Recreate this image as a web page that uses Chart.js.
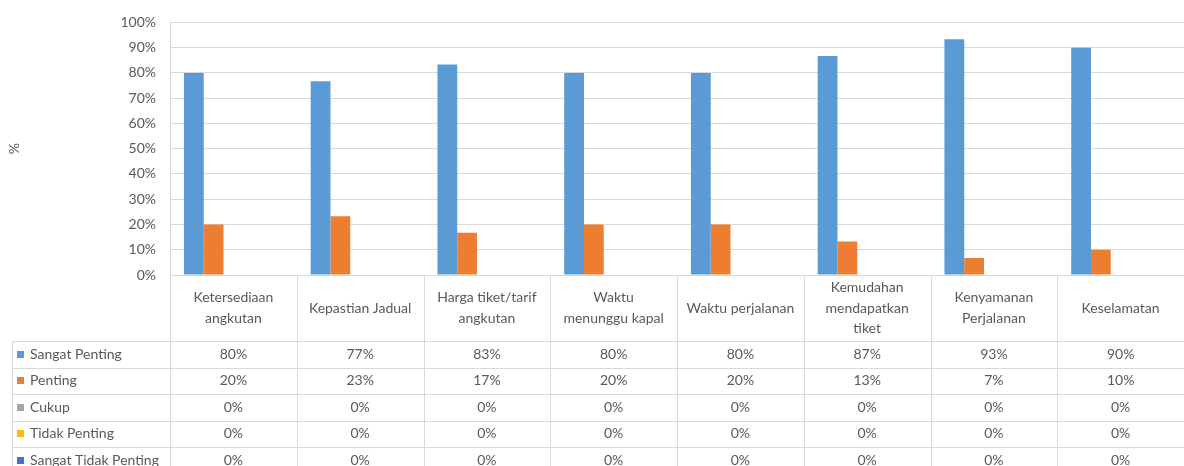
<!DOCTYPE html>
<html>
<head>
<meta charset="utf-8">
<script src="https://cdn.jsdelivr.net/npm/chart.js@4/dist/chart.umd.min.js"></script>
<style>
  html, body { margin: 0; padding: 0; background: #fff; }
  #wrap { width: 1184px; height: 466px; position: relative; }
</style>
</head>
<body>
<div id="wrap"><canvas id="chart1"></canvas></div>
<script>
// Data dari gambar (persen)
const kategori = [
    ['Ketersediaan', 'angkutan'],
    ['Kepastian Jadual'],
    ['Harga tiket/tarif', 'angkutan'],
    ['Waktu', 'menunggu kapal'],
    ['Waktu perjalanan'],
    ['Kemudahan', 'mendapatkan', 'tiket'],
    ['Kenyamanan', 'Perjalanan'],
    ['Keselamatan']
];
const sangatPenting = [80, 76.7, 83.3, 80, 80, 86.7, 93.3, 90];
const penting = [20, 23.3, 16.7, 20, 20, 13.3, 6.7, 10];
const cukup = [0, 0, 0, 0, 0, 0, 0, 0];
const tidakPenting = [0, 0, 0, 0, 0, 0, 0, 0];
const sangatTidakPenting = [0, 0, 0, 0, 0, 0, 0, 0];
const namaSeri = ['Sangat Penting', 'Penting', 'Cukup', 'Tidak Penting', 'Sangat Tidak Penting'];
const warna = ['#5B9BD5', '#ED7D31', '#A5A5A5', '#FFC000', '#4472C4'];
const yTicks = [0, 10, 20, 30, 40, 50, 60, 70, 80, 90, 100];

const seri = [sangatPenting, penting, cukup, tidakPenting, sangatTidakPenting];
const FONT = 'Lato, "Noto Sans", sans-serif';
const TEXT = '#595959';
const GARIS = '#d9d9d9';

// Plugin untuk menggambar tabel data di bawah grafik
const tabelData = {
    id: 'tabelData',
    afterDraw(chart) {
        const ctx = chart.ctx;
        const area = chart.chartArea;
        const n = kategori.length;
        const lebar = (area.right - area.left) / n;
        const atas = area.bottom;
        const headerBawah = 341;
        const tinggiBaris = 26.5;
        const kiriLegend = 12;
        const bawah = chart.height;

        ctx.save();
        ctx.strokeStyle = GARIS;
        ctx.lineWidth = 1;
        ctx.beginPath();
        // garis vertikal kolom
        for (let i = 0; i <= n; i++) {
            const xb = Math.round(area.left + i * lebar) + 0.5;
            ctx.moveTo(xb, atas);
            ctx.lineTo(xb, bawah);
        }
        // garis kiri kolom legenda
        ctx.moveTo(kiriLegend + 0.5, headerBawah);
        ctx.lineTo(kiriLegend + 0.5, bawah);
        // garis horizontal baris
        for (let k = 0; k < seri.length; k++) {
            const yb = Math.round(headerBawah + k * tinggiBaris) + 0.5;
            ctx.moveTo(kiriLegend, yb);
            ctx.lineTo(area.right, yb);
        }
        ctx.stroke();

        ctx.fillStyle = TEXT;
        ctx.font = '14px ' + FONT;
        ctx.textAlign = 'center';
        ctx.textBaseline = 'middle';

        // header kategori
        const tengahHeader = (atas + headerBawah) / 2;
        kategori.forEach((baris, i) => {
            const cx = chart.scales.x.getPixelForValue(i);
            const lh = 20.5;
            const y0 = tengahHeader - (baris.length - 1) * lh / 2;
            baris.forEach((teks, j) => ctx.fillText(teks, cx, y0 + j * lh));
        });

        // baris data
        seri.forEach((nilai, k) => {
            const cy = headerBawah + k * tinggiBaris + tinggiBaris / 2;
            ctx.fillStyle = warna[k];
            ctx.fillRect(17, Math.round(cy - 3.5), 7, 7);
            ctx.fillStyle = TEXT;
            ctx.textAlign = 'left';
            ctx.fillText(namaSeri[k], 30, cy);
            ctx.textAlign = 'center';
            nilai.forEach((v, i) => {
                const cx = chart.scales.x.getPixelForValue(i);
                ctx.fillText(Math.round(v) + '%', cx, cy);
            });
        });
        ctx.restore();
    }
};

function createChart() {
    const ctx = document.getElementById('chart1').getContext('2d');
    window.chart = new Chart(ctx, {
        type: 'bar',
        data: {
            labels: kategori.map(b => b.join(' ')),
            datasets: seri.map((nilai, k) => ({
                label: namaSeri[k],
                data: nilai,
                backgroundColor: warna[k],
                borderWidth: 0,
                categoryPercentage: 0.78,
                barPercentage: 1.0
            }))
        },
        options: {
            responsive: true,
            maintainAspectRatio: false,
            animation: false,
            layout: { padding: { top: 22, right: 0, bottom: 466 - 275, left: 0 } },
            plugins: {
                legend: { display: false },
                tooltip: { enabled: false }
            },
            scales: {
                x: { display: false },
                y: {
                    min: 0,
                    max: 100,
                    afterBuildTicks: (scale) => { scale.ticks = yTicks.map(v => ({ value: v })); },
                    afterFit: (scale) => { scale.width = 170; },
                    ticks: {
                        color: TEXT,
                        font: { family: FONT, size: 14 },
                        padding: 14,
                        callback: (v) => v + '%'
                    },
                    grid: { color: GARIS, drawTicks: false },
                    border: { display: true, color: GARIS },
                    title: {
                        display: true,
                        text: '%',
                        color: TEXT,
                        font: { family: FONT, size: 14 },
                        padding: { top: 6, bottom: 0 }
                    }
                }
            }
        },
        plugins: [tabelData]
    });
}

createChart();
</script>
</body>
</html>
